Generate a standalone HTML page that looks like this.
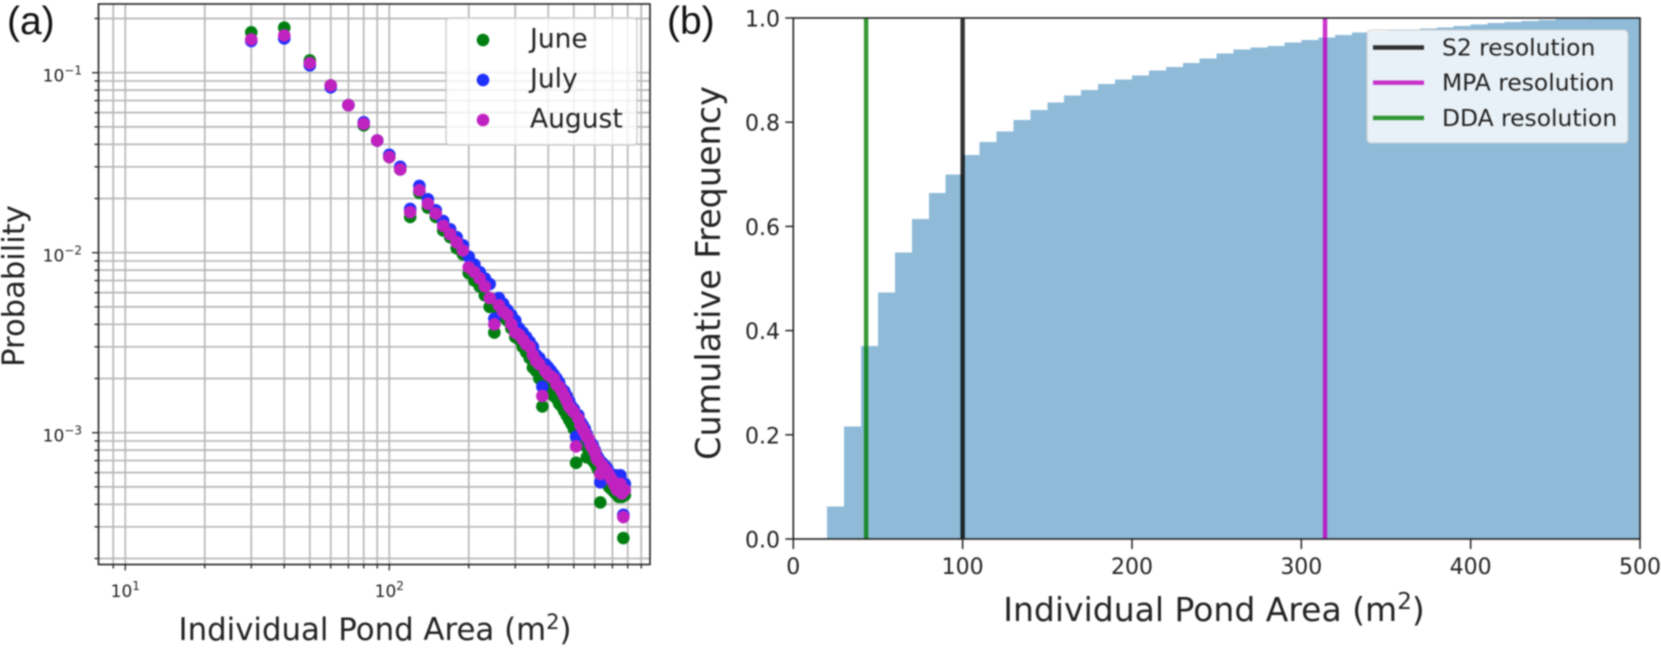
<!DOCTYPE html>
<html lang="en">
<head>
<meta charset="utf-8">
<title>Pond area distribution charts</title>
<style>
html,body{margin:0;padding:0;background:#fff;width:1661px;height:648px;overflow:hidden}
svg{display:block;filter:blur(.7px)}
text{font-family:"DejaVu Sans","Liberation Sans",sans-serif;fill:#222}
.panel{font-family:"Liberation Sans",sans-serif;font-size:39px;fill:#111}
</style>
</head>
<body>
<svg id="figure" xmlns="http://www.w3.org/2000/svg" width="1661" height="648" viewBox="0 0 1661 648">
  <text class="panel" x="7" y="34">(a)</text>
  <text class="panel" x="667" y="34">(b)</text>
</svg>
<script>
// ---------- Panel (a) data ----------
const pondAreas = [30,40,50,60,70,80,90,100,110,120,130,140,150,160,170,180,190,200,210,220,230,240,250,260,270,280,290,300,310,320,330,340,350,360,370,380,390,400,410,420,430,440,450,460,470,480,490,500,510,520,530,540,550,560,570,580,590,600,610,620,630,640,650,660,670,680,690,700,710,720,730,740,750,760,770,780];
const juneValues = [.1677,.178,.117,.085,.066,.051,.042,.034,.029,.0158,.0215,.0178,.0158,.0133,.0122,.0106,.0098,.0077,.0070,.0065,.0058,.0050,.0036,.0048,.0044,.0042,.0038,.0034,.0033,.0030,.0028,.0026,.0023,.0022,.0020,.0014,.0019,.0018,.0017,.0016,.00155,.00145,.0014,.00132,.00125,.00118,.00112,.00105,.00068,.0010,.00092,.00088,.00085,.00073,.00078,.00074,.0007,.00068,.00065,.00062,.00041,.0006,.00057,.00054,.00052,.0005,.00049,.00048,.00047,.00046,.00046,.00044,.00046,.00044,.00026,.00045];
const julyValues = [.150,.155,.110,.083,.066,.053,.042,.035,.030,.0175,.0235,.0198,.0172,.0150,.0135,.0122,.0110,.0095,.0086,.0078,.0072,.0067,.0043,.0056,.0052,.0048,.0045,.0042,.0038,.0036,.0034,.0032,.0030,.0027,.0026,.0018,.0024,.0023,.0022,.0021,.0020,.0019,.00175,.0017,.0016,.0015,.0014,.00135,.00095,.00125,.00115,.0011,.00105,.00098,.0009,.00088,.00085,.0008,.00075,.00072,.00053,.00068,.00066,.00065,.00063,.0006,.00058,.00056,.00055,.00058,.00054,.00052,.00058,.00052,.00035,.00052];
const augustValues = [.153,.161,.113,.085,.066,.052,.042,.034,.029,.0168,.0222,.0187,.0165,.0141,.0127,.0114,.0103,.0083,.0078,.0072,.0065,.0056,.0040,.0051,.0047,.0045,.0040,.0036,.0035,.0033,.0031,.0030,.0027,.0025,.0024,.0016,.0022,.0021,.00205,.0020,.00185,.0018,.0017,.0016,.0015,.0014,.00135,.0013,.00084,.0012,.0011,.00105,.0010,.00095,.00092,.00085,.00082,.00078,.00072,.0007,.00059,.00066,.00064,.00062,.0006,.00058,.00056,.00054,.00052,.0005,.00048,.0005,.00052,.00046,.00034,.00048];
const logXGridValues = [9,10,20,30,40,50,60,70,80,90,100,200,300,400,500,600,700,800,900];
const logYGridValues = [.2,.1,.09,.08,.07,.06,.05,.04,.03,.02,.01,.009,.008,.007,.006,.005,.004,.003,.002,.001,.0009,.0008,.0007,.0006,.0005,.0004,.0003,.0002];
const logXExponents = [1,2];
const logYExponents = [-1,-2,-3];
const scatterLegendLabels = ['June','July','August'];

// ---------- Panel (b) data ----------
const binStarts = [20,30,40,50,60,70,80,90,100,110,120,130,140,150,160,170,180,190,200,210,220,230,240,250,260,270,280,290,300,310,320,330,340,350,360,370,380,390,400,410,420,430,440,450,460,470,480,490];
const cumulativeFrequency = [.062,.216,.37,.473,.55,.614,.664,.70,.737,.762,.782,.804,.823,.838,.851,.862,.873,.882,.890,.899,.906,.914,.922,.932,.940,.9435,.9466,.953,.9576,.963,.967,.972,.974,.976,.978,.980,.982,.985,.988,.990,.992,.994,.996,.998,.998,.999,.999,1.0];
const binWidth = 10;
const xTickValues = [0,100,200,300,400,500];
const yTickValues = [0,.2,.4,.6,.8,1];
const resolutionValues = [100,314,43];
const resolutionLabels = ['S2 resolution','MPA resolution','DDA resolution'];

// ---------- Axis functions ----------
const boxA = {l:98.5,r:650,t:4,b:564.5};
const boxB = {l:793.3,r:1640,t:18,b:539};
function xA(v){return 389.3+264*(Math.log10(v)-2);}
function yA(v){return 252.7-180*(Math.log10(v)+2);}
function xB(v){return boxB.l+(boxB.r-boxB.l)*v/500;}
function yB(v){return boxB.b-(boxB.b-boxB.t)*v;}

const svg = document.getElementById('figure');
const NS = 'http://www.w3.org/2000/svg';
function make(tag,attrs,parent){
  const el = document.createElementNS(NS,tag);
  for(const k in attrs){el.setAttribute(k,attrs[k]);}
  (parent||svg).appendChild(el);
  return el;
}
function line(x1,y1,x2,y2,stroke,w,parent,op){
  return make('line',{x1:x1,y1:y1,x2:x2,y2:y2,stroke:stroke,'stroke-width':w,'stroke-opacity':op===undefined?1:op},parent);
}
function powerLabel(x,y,exp,anchor,parent){
  const t = make('text',{x:x,y:y,'text-anchor':anchor,'font-size':17},parent);
  t.appendChild(document.createTextNode('10'));
  const s = make('tspan',{dy:-7,'font-size':12},t);
  s.textContent = String(exp).replace('-','\u2212');
  return t;
}

// ---------- Panel (a) ----------
const chartA = make('g',{});



const gridA = make('g',{},chartA);


logXGridValues.forEach(function(v){
  const g = line(xA(v),boxA.t,xA(v),boxA.b,'#b8b8b8',1.7,gridA);
  
  
  const t = line(xA(v),boxA.b,xA(v),boxA.b+(v===10||v===100?6:4),'#222',1.3,gridA);
  
  
});
logYGridValues.forEach(function(v){
  const g = line(boxA.l,yA(v),boxA.r,yA(v),'#b8b8b8',1.7,gridA);
  
  
  const major = (v===.1||v===.01||v===.001);
  const t = line(boxA.l-(major?6.5:4),yA(v),boxA.l,yA(v),'#222',1.3,gridA);
  
  
});

const scatterColors = ['#007f10','#1f30ff','#c022c0'];
[juneValues,julyValues,augustValues].forEach(function(series,si){
  const g = make('g',{fill:scatterColors[si]},chartA);
  
  
  series.forEach(function(v,i){
    const c = make('circle',{cx:xA(pondAreas[i]),cy:yA(v),r:6.3},g);
    
    
  });
});

const frameA = make('rect',{x:boxA.l,y:boxA.t,width:boxA.r-boxA.l,height:boxA.b-boxA.t,fill:'none',stroke:'#222','stroke-width':1.6},chartA);



logXExponents.forEach(function(e){
  const t = powerLabel(xA(Math.pow(10,e)),597,e,'middle',chartA);
  
  
});
logYExponents.forEach(function(e){
  const t = powerLabel(82,yA(Math.pow(10,e))+9,e,'end',chartA);
  
  
});

const xTitleA = make('text',{x:375,y:640,'text-anchor':'middle','font-size':30.8},chartA);


xTitleA.appendChild(document.createTextNode('Individual Pond Area (m'));
const supA = make('tspan',{dy:-11,'font-size':21},xTitleA);
supA.textContent = '2';
const endA = make('tspan',{dy:11},xTitleA);
endA.textContent = ')';

const yTitleA = make('text',{'text-anchor':'middle','font-size':30.6,transform:'translate(24,286) rotate(-90)'},chartA);


yTitleA.textContent = 'Probability';

const legendA = make('g',{},chartA);


make('rect',{x:446,y:18,width:191,height:127,rx:4,fill:'#fff','fill-opacity':.8,stroke:'#ccc','stroke-width':1.4},legendA);
scatterLegendLabels.forEach(function(label,i){
  const y = 40+40*i;
  const m = make('circle',{cx:483,cy:y,r:6.3,fill:scatterColors[i]},legendA);
  
  
  const t = make('text',{x:530,y:y+7.5,'font-size':26.5},legendA);
  
  
  t.textContent = label;
});

// ---------- Panel (b) ----------
const chartB = make('g',{});



binStarts.forEach(function(start,i){
  const r = make('rect',{x:xB(start),y:yB(cumulativeFrequency[i]),width:xB(start+binWidth)-xB(start),height:yB(0)-yB(cumulativeFrequency[i]),fill:'#1f77b4','fill-opacity':.5,'shape-rendering':'crispEdges'},chartB);
  
  
});

const resolutionColors = ['#000000','#bf00bf','#008000'];
resolutionValues.forEach(function(v,i){
  const l = line(xB(v),boxB.t,xB(v),boxB.b,resolutionColors[i],4.4,chartB,.8);
  
  
});

const frameB = make('rect',{x:boxB.l,y:boxB.t,width:boxB.r-boxB.l,height:boxB.b-boxB.t,fill:'none',stroke:'#222','stroke-width':1.6},chartB);



xTickValues.forEach(function(v){
  const t = line(xB(v),boxB.b,xB(v),boxB.b+10,'#222',1.5,chartB);
  
  
  const l = make('text',{x:xB(v),y:574,'text-anchor':'middle','font-size':22},chartB);
  
  
  l.textContent = String(v);
});
yTickValues.forEach(function(v){
  const t = line(boxB.l-8,yB(v),boxB.l,yB(v),'#222',1.5,chartB);
  
  
  const l = make('text',{x:780,y:yB(v)+8.5,'text-anchor':'end','font-size':22},chartB);
  
  
  l.textContent = v.toFixed(1);
});

const xTitleB = make('text',{x:1214,y:621,'text-anchor':'middle','font-size':33},chartB);


xTitleB.appendChild(document.createTextNode('Individual Pond Area (m'));
const supB = make('tspan',{dy:-12,'font-size':23},xTitleB);
supB.textContent = '2';
const endB = make('tspan',{dy:12},xTitleB);
endB.textContent = ')';

const yTitleB = make('text',{'text-anchor':'middle','font-size':33.4,transform:'translate(720,273) rotate(-90)'},chartB);


yTitleB.textContent = 'Cumulative Frequency';

const legendB = make('g',{},chartB);


make('rect',{x:1367,y:30,width:261,height:113,rx:4,fill:'#fff','fill-opacity':.8,stroke:'#ccc','stroke-opacity':.8,'stroke-width':1.2},legendB);
resolutionLabels.forEach(function(label,i){
  const y = 47.5+35.2*i;
  const s = line(1373,y,1424,y,resolutionColors[i],4.4,legendB,.8);
  
  
  const t = make('text',{x:1442,y:y+8,'font-size':23.4},legendB);
  
  
  t.textContent = label;
});
</script>
</body>
</html>
